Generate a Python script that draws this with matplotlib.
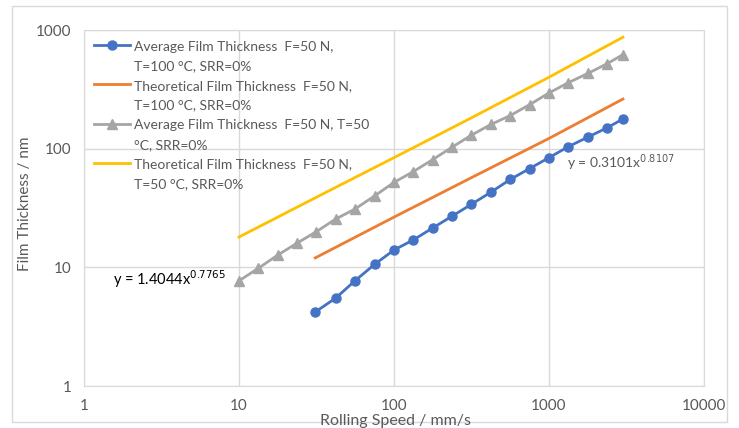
import matplotlib
matplotlib.use("Agg")
import matplotlib.pyplot as plt
from matplotlib.lines import Line2D
from matplotlib.ticker import FixedLocator, NullLocator, FixedFormatter

plt.rcParams['font.family'] = ['Lato', 'DejaVu Sans']

# %% data
speed_100 = [31, 42, 56, 75, 100, 133, 178, 237, 316, 422, 562, 750, 1000, 1334, 1778, 2371, 3000]
avg_100 = [4.2, 5.5, 7.7, 10.6, 14, 17, 21.5, 27, 34, 43, 55, 68, 84, 104, 125, 150, 178]
speed_theo_100 = [31, 100, 316, 1000, 3000]
theo_100 = [12, 26.5, 57, 122, 262]

speed_50 = [10, 13.3, 17.8, 23.7, 31.6, 42, 56, 75, 100, 133, 178, 237, 316, 422, 562, 750,
            1000, 1334, 1778, 2371, 3000]
avg_50 = [7.7, 9.8, 12.7, 16, 20, 25.5, 31, 40, 52, 64, 81, 103, 130, 160, 190, 235,
          295, 360, 430, 520, 620]
speed_theo_50 = [10, 31, 100, 316, 1000, 3000]
theo_50 = [18, 38.5, 84, 182, 400, 870]

labels = [("Average Film Thickness  F=50 N,", "T=100 °C, SRR=0%"),
          ("Theoretical Film Thickness  F=50 N,", "T=100 °C, SRR=0%"),
          ("Average Film Thickness  F=50 N, T=50", "°C, SRR=0%"),
          ("Theoretical Film Thickness  F=50 N,", "T=50 °C, SRR=0%")]
xticks = [1, 10, 100, 1000, 10000]
yticks = [1, 10, 100, 1000]

# %% plot
fig = plt.figure(figsize=(7.39, 4.28), dpi=100)
ax = fig.add_axes([84/739, (428-386)/428, 620/739, 356/428])
grid_c = "#d9d9d9"
txt_c = "#595959"

l1, = ax.plot(speed_100, avg_100, color="#4472C4", lw=2, marker="o", ms=6.5)
l2, = ax.plot(speed_theo_100, theo_100, color="#ED7D31", lw=2)
l3, = ax.plot(speed_50, avg_50, color="#A5A5A5", lw=2, marker="^", ms=7)
l4, = ax.plot(speed_theo_50, theo_50, color="#FFC000", lw=2)

ax.set_xscale("log"); ax.set_yscale("log")
ax.set_xlim(1, 10000); ax.set_ylim(1, 1000)
ax.xaxis.set_major_locator(FixedLocator(xticks))
ax.xaxis.set_major_formatter(FixedFormatter([str(v) for v in xticks]))
ax.yaxis.set_major_locator(FixedLocator(yticks))
ax.yaxis.set_major_formatter(FixedFormatter([str(v) for v in yticks]))
ax.xaxis.set_minor_locator(NullLocator()); ax.yaxis.set_minor_locator(NullLocator())
ax.grid(True, color=grid_c, lw=1)
ax.set_axisbelow(True)
for s in ax.spines.values():
    s.set_color(grid_c)
ax.tick_params(length=0, labelsize=11, colors=txt_c)
ax.tick_params(axis="x", pad=9.5)
ax.tick_params(axis="y", pad=9)

fig.text(395/739, 1 - 421/428, "Rolling Speed / mm/s", fontsize=11.5, color=txt_c,
         ha="center", va="center")
fig.text(25/739, 1 - 204/428, "Film Thickness / nm", fontsize=11, color=txt_c,
         ha="center", va="center", rotation=90)

ax.text(0.047, 0.283, r"y = 1.4044x$^{0.7765}$", transform=ax.transAxes, fontsize=10.5, color="black")
ax.text(0.779, 0.613, r"y = 0.3101x$^{0.8107}$", transform=ax.transAxes, fontsize=10, color=txt_c)

# legend: one row per text line, handle on the first line of each entry
blank = Line2D([], [], color="none")
handles, texts = [], []
for h, (a, b) in zip([l1, l2, l3, l4], labels):
    handles += [h, blank]
    texts += [a, b]
leg = ax.legend(handles, texts, loc="upper left", frameon=False, fontsize=10, handlelength=2.6,
                labelspacing=0.48, handleheight=1.0, borderaxespad=0.3, handletextpad=0.3,
                bbox_to_anchor=(0.0, 1.0))
for t in leg.get_texts():
    t.set_color(txt_c)

# outer border
fig.patches.append(plt.Rectangle((12/739, 6/428), 715/739, 416/428, transform=fig.transFigure,
                                 fill=False, edgecolor=grid_c, lw=1))

plt.savefig("out.png", dpi=100)
